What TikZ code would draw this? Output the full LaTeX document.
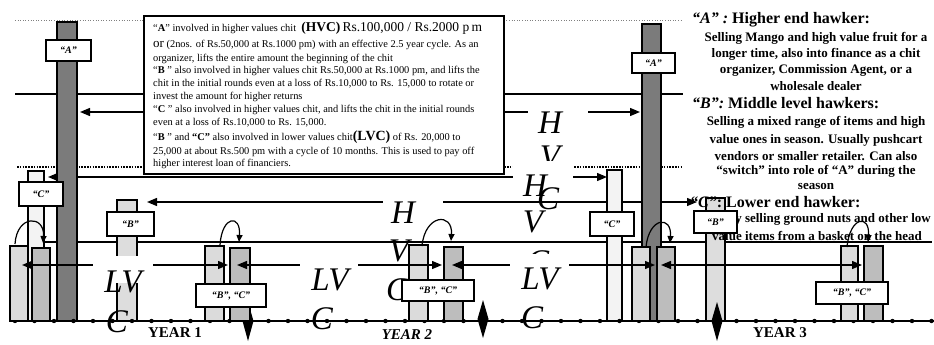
\documentclass[tikz,border=0pt]{standalone}
\usepackage{fontspec}
\setmainfont{Liberation Serif}
\usetikzlibrary{arrows.meta}
\definecolor{pilA}{HTML}{7B7B7B}
\definecolor{barlt}{HTML}{DBDBDB}
\definecolor{barmd}{HTML}{BDBDBD}
\definecolor{barwh}{HTML}{F3F3F3}
\definecolor{barB}{HTML}{DDDDDD}
\begin{document}
\begin{tikzpicture}[x=1pt,y=-1pt,
  hline/.style={line width=1.3pt},
  arr/.style={line width=1.3pt,{Triangle[length=10pt,width=8pt]}-{Triangle[length=10pt,width=8pt]}},
  bar/.style={draw,line width=1.5pt,inner sep=0pt,outer sep=0pt,anchor=south west},
  tag/.style={draw,fill=white,line width=1.6pt,inner sep=0pt,font=\bfseries\itshape\fontsize{10}{12}\selectfont},
  big/.style={inner sep=0pt,font=\itshape\fontsize{33}{33}\selectfont},
  loopar/.style={line width=1.2pt,-{Triangle[length=7pt,width=6pt]}},
  boxtxt/.style={anchor=west,inner sep=0pt,font=\fontsize{10.4}{12}\selectfont},
  rhead/.style={anchor=west,inner sep=0pt,font=\bfseries\fontsize{16}{18}\selectfont},
  rbody/.style={inner sep=0pt,font=\bfseries\fontsize{13}{15}\selectfont},
  yr/.style={inner sep=0pt,font=\bfseries\fontsize{15}{16}\selectfont},
]
\useasboundingbox (0,0) rectangle (934,345);

% ---------- level lines ----------
\draw[gray,line width=0.6pt,dotted] (15,20) -- (683,20);
\draw[hline] (15,94) -- (683,94);
\draw[line width=2.2pt,dash pattern=on 1.6pt off 1.2pt] (17,167) -- (683,167);
\draw[hline] (44,242) -- (932,242);

% ---------- HVC arrows ----------
\coordinate (h1l) at (80,112);  \coordinate (h1r) at (640,112);
\coordinate (h2l) at (48,177);  \coordinate (h2r) at (607,177);
\coordinate (h3l) at (147,202); \coordinate (h3r) at (697,202);
\draw[arr] (h1l) -- (h1r);
\draw[arr] (h2l) -- (h2r);
\draw[arr] (h3l) -- (h3r);

% ---------- tall bars ----------
\node[bar,fill=pilA,minimum width=20,minimum height=299] (A1) at (57,321) {};
\node[bar,fill=pilA,minimum width=19,minimum height=297] (A3) at (642,321) {};
\node[bar,fill=barwh,minimum width=16,minimum height=150] (C1) at (28,321) {};
\node[bar,fill=barB,minimum width=20,minimum height=121] (B1) at (117,321) {};
\node[bar,fill=barwh,minimum width=15,minimum height=151] (C3) at (607,321) {};
\node[bar,fill=barB,minimum width=19,minimum height=123] (B3) at (706,321) {};

% ---------- text box ----------
\node[draw,fill=white,line width=2pt,minimum width=360,minimum height=158,anchor=north west] (tbox) at (143,15) {};
\node[boxtxt] (t1) at (153,28) {“\textbf{A}” involved in higher values chit \ {\fontsize{13.5}{14}\selectfont\textbf{(HVC)}\,Rs.100,000 / Rs.2000 p\,m}};
\node[boxtxt] (t2) at (153,45) {{\fontsize{13}{14}\selectfont or} (2nos. of Rs.50,000 at Rs.1000 pm) with an effective 2.5 year cycle. As an};
\node[boxtxt] (t3) at (153,59) {organizer, lifts the entire amount the beginning of the chit};
\node[boxtxt] (t4) at (153,71) {“\textbf{B} ” also involved in higher values chit Rs.50,000 at Rs.1000 pm, and lifts the};
\node[boxtxt] (t5) at (153,84) {chit in the initial rounds even at a loss of Rs.10,000 to Rs. 15,000 to rotate or};
\node[boxtxt] (t6) at (153,97) {invest the amount for higher returns};
\node[boxtxt] (t7) at (153,110) {“\textbf{C} ” also involved in higher values chit, and lifts the chit in the initial rounds};
\node[boxtxt] (t8) at (153,123) {even at a loss of Rs.10,000 to Rs. 15,000.};
\node[boxtxt] (t9) at (153,137) {“\textbf{B} ” and \textbf{“C”} also involved in lower values chit{\fontsize{14}{14}\selectfont\textbf{(LVC)}} of Rs. 20,000 to};
\node[boxtxt] (t10) at (153,152) {25,000 at about Rs.500 pm with a cycle of 10 months. This is used to pay off};
\node[boxtxt] (t11) at (153,164) {higher interest loan of financiers.};

% ---------- HVC labels ----------
\fill[white] (528,100) rectangle (588,166);
\node[big] (hA1) at (550,123) {H};
\begin{scope}\clip (520,140) rectangle (590,166); \node[big] (hA2) at (550,157) {V}; \end{scope}
\fill[white] (513,161) rectangle (573,195);
\node[big] (hB1) at (535,186) {H};
\node[big] (hA3) at (548,199) {C};
\node[big] (hB2) at (533,222) {V};
\begin{scope}\clip (520,240) rectangle (560,254); \node[big] (hB3) at (538,262) {C}; \end{scope}
\fill[white] (383,196) rectangle (443,208);
\node[big] (hC1) at (403,213) {H};
\node[big] (hC2) at (399,251) {V};
\node[big] (hC3) at (397,290) {C};

% ---------- timeline ----------
\draw[line width=1.8pt] (12,321) -- (934,321);
\foreach \i in {0,...,47} \fill ({15+19.5*\i},321) circle (2.2);
\fill (248,302) -- (253.5,321) -- (248,341) -- (242.5,321) -- cycle;
\fill (483,300) -- (488.5,319) -- (483,338) -- (477.5,319) -- cycle;
\fill (717,302) -- (722.5,321) -- (717,341) -- (711.5,321) -- cycle;
\node[yr] (y1) at (175,333) {YEAR 1};
\node[yr,font=\bfseries\itshape\fontsize{15}{16}\selectfont] (y2) at (407,335) {YEAR 2};
\node[yr] (y3) at (780,333) {YEAR 3};

% ---------- bar pairs ----------
\node[bar,fill=barlt,minimum width=18,minimum height=75] (P0l) at (10,321) {};
\node[bar,fill=barmd,minimum width=18,minimum height=73] (P0r) at (32,321) {};
\node[bar,fill=barlt,minimum width=19,minimum height=75] (P1l) at (205,321) {};
\node[bar,fill=barmd,minimum width=20,minimum height=73] (P1r) at (230,321) {};
\node[bar,fill=barlt,minimum width=19,minimum height=76] (P2l) at (409,321) {};
\node[bar,fill=barmd,minimum width=19,minimum height=74] (P2r) at (444,321) {};
\node[bar,fill=barlt,minimum width=18,minimum height=74] (P3l) at (632,321) {};
\node[bar,fill=barmd,minimum width=18,minimum height=74] (P3r) at (657,321) {};
\node[bar,fill=barlt,minimum width=17,minimum height=75] (P4l) at (841,321) {};
\node[bar,fill=barmd,minimum width=19,minimum height=75] (P4r) at (864,321) {};

% loops
\draw[loopar] (15,244) .. controls (17,214) and (45,215) .. (43,243);
\draw[loopar] (220,245) .. controls (222,215) and (241,214) .. (239,242);
\draw[loopar] (422,246) .. controls (425,214) and (453,212) .. (451,241);
\draw[loopar] (646,247) .. controls (649,217) and (672,215) .. (670,243);
\draw[loopar] (847,247) .. controls (850,216) and (870,214) .. (868,242);

% ---------- LVC arrows ----------
\coordinate (l1a) at (22,265);  \coordinate (l1b) at (228,265);
\coordinate (l2a) at (237,265); \coordinate (l2b) at (442,265);
\coordinate (l3a) at (452,265); \coordinate (l3b) at (655,265);
\coordinate (l4a) at (661,265); \coordinate (l4b) at (862,265);
\draw[arr] (l1a) -- (l1b);
\draw[arr] (l2a) -- (l2b);
\draw[arr] (l3a) -- (l3b);
\draw[arr] (l4a) -- (l4b);

\fill[white] (93,256) rectangle (153,283);
\node[big] (lD1) at (123,282) {LV};
\node[big] (lD2) at (117,322) {C};
\fill[white] (300,256) rectangle (358,283);
\node[big] (lE1) at (330,280) {LV};
\node[big] (lE2) at (322,319) {C};
\fill[white] (510,254) rectangle (569,283);
\node[big] (lF1) at (540,279) {LV};
\node[big] (lF2) at (532,318) {C};

% ---------- tags ----------
\node[tag,minimum width=45,minimum height=21] (tA1) at (68.5,50.5) {“A”};
\node[tag,minimum width=43,minimum height=20] (tA3) at (653.5,63) {“A”};
\node[tag,minimum width=44,minimum height=24] (tC1) at (41,194) {“C”};
\node[tag,minimum width=47,minimum height=24] (tB1) at (130.5,224) {“B”};
\node[tag,minimum width=44,minimum height=24] (tC3) at (612,224) {“C”};
\node[tag,minimum width=70,minimum height=23] (tP1) at (231,295.5) {“B”, “C”};
\node[tag,minimum width=72,minimum height=21] (tP2) at (438,290.5) {“B”, “C”};
\node[tag,minimum width=72,minimum height=22] (tP4) at (852,293) {“B”, “C”};

% ---------- right text ----------
\node[rhead] (ra) at (692,20) {\textit{“A” :} Higher end hawker:};
\node[rbody] at (816,38) {Selling Mango and high value fruit for a};
\node[rbody] at (816,54) {longer time, also into finance as a chit};
\node[rbody] at (816,70) {organizer, Commission Agent, or a};
\node[rbody] at (816,86) {wholesale dealer};
\node[rhead] (rb) at (692,103) {\textit{“B”:} Middle level hawkers:};
\node[rbody] at (816,122) {Selling a mixed range of items and high};
\node[rbody] at (816,140) {value ones in season. Usually pushcart};
\node[rbody] at (816,156) {vendors or smaller retailer. Can also};
\node[rbody] at (816,171) {“switch” into role of “A” during the};
\node[rbody] at (816,186) {season};
\node[rhead] (rc) at (690,202) {\textit{“C”}: Lower end hawker:};
\node[rbody,anchor=east] at (931,219) {y selling ground nuts and other low};
\node[rbody] at (817,236) {value items from a basket on the head};
\node[tag,minimum width=43,minimum height=22] (tB3) at (715.5,222) {“B”};
\end{tikzpicture}
\end{document}
